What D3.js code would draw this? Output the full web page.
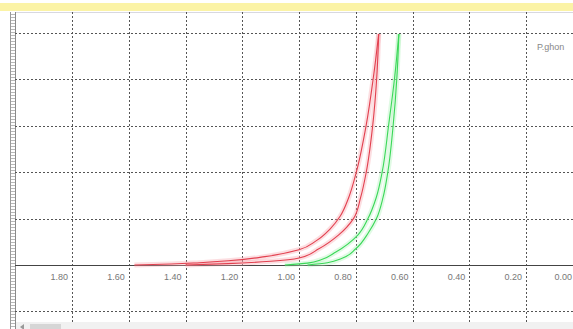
<!DOCTYPE html>
<html><head><meta charset="utf-8">
<script src="https://cdn.jsdelivr.net/npm/d3@7"></script>
<style>html,body{margin:0;padding:0;background:#fff;overflow:hidden}</style>
</head><body>
<svg id="c" width="573" height="329"></svg>
<script>
// Tick labels along the (reversed) potential axis
const xTicks = [1.80, 1.60, 1.40, 1.20, 1.00, 0.80, 0.60, 0.40, 0.20, 0.00];
const yGrid = [-1, 0, 1, 2, 3, 4, 5];
const legendText = "P.ghon";

// Red loop: forward (outer) and reverse (inner) branches  [potential, current]
const redPotA = [1.58, 1.45, 1.35, 1.25, 1.12, 1.00, 0.94, 0.89, 0.855, 0.825, 0.798, 0.763, 0.738, 0.719];
const redCurA = [0.00, 0.02, 0.05, 0.09, 0.18, 0.33, 0.52, 0.78, 1.05, 1.45, 2.00, 3.02, 4.04, 4.98];
const redPotB = [1.40, 1.25, 1.10, 1.00, 0.93, 0.86, 0.808, 0.783, 0.763, 0.740, 0.726, 0.719];
const redCurB = [0.00, 0.03, 0.08, 0.15, 0.35, 0.65, 1.00, 1.45, 2.00, 3.02, 4.04, 4.98];
// Green loop
const grnPotA = [1.05, 0.97, 0.92, 0.87, 0.792, 0.757, 0.728, 0.707, 0.684, 0.663, 0.648];
const grnCurA = [0.00, 0.04, 0.12, 0.28, 0.65, 1.00, 1.45, 2.00, 3.02, 4.04, 4.98];
const grnPotB = [0.97, 0.90, 0.85, 0.80, 0.755, 0.727, 0.704, 0.687, 0.668, 0.655, 0.648];
const grnCurB = [0.00, 0.05, 0.14, 0.35, 0.70, 1.00, 1.45, 2.00, 3.02, 4.04, 4.98];

(function () {
const svg = d3.select("#c");
const W = 573, H = 329;
const padL = 15, padT = 12, padB = 321;

const x = d3.scaleLinear().domain([1.80, 0.20]).range([72, 526]);
const y = d3.scaleLinear().domain([0, 5]).range([265, 33]);

// top yellow bar
svg.append("rect").attr("x", 0).attr("y", 3).attr("width", W).attr("height", 8).attr("fill", "#fbf3a6");
svg.append("line").attr("x1", padL).attr("x2", W).attr("y1", padT + 0.5).attr("y2", padT + 0.5).attr("stroke", "#d8d8e0").attr("stroke-width", 1);

// left ruler
const ruler = svg.append("g");
ruler.append("line").attr("x1", 10.5).attr("x2", 10.5).attr("y1", padT).attr("y2", H).attr("stroke", "#9a9a9a");
ruler.append("line").attr("x1", 15.5).attr("x2", 15.5).attr("y1", padT).attr("y2", H).attr("stroke", "#8a8a8a");
ruler.selectAll("line.rt").data(d3.range(padT + 2, H, 3)).enter().append("line").attr("class", "rt")
  .attr("x1", 11).attr("x2", 15).attr("y1", d => d + 0.5).attr("y2", d => d + 0.5).attr("stroke", "#b8b8b8");

// vertical grid
svg.append("g").selectAll("line").data(xTicks).enter().append("line")
  .attr("x1", d => Math.round(x(d)) + 0.5).attr("x2", d => Math.round(x(d)) + 0.5)
  .attr("y1", padT).attr("y2", padB + 2)
  .attr("stroke", "#555").attr("stroke-dasharray", "2,2");

// horizontal grid
svg.append("g").selectAll("line").data(yGrid.filter(d => d !== 0)).enter().append("line")
  .attr("x1", padL).attr("x2", W)
  .attr("y1", d => Math.round(y(d)) + 0.5).attr("y2", d => Math.round(y(d)) + 0.5)
  .attr("stroke", "#555").attr("stroke-dasharray", "2,2");

// x axis line
svg.append("line").attr("x1", padL).attr("x2", W)
  .attr("y1", Math.round(y(0)) + 0.5).attr("y2", Math.round(y(0)) + 0.5)
  .attr("stroke", "#444").attr("stroke-width", 1.2);

// tick labels (last one kept inside the window)
svg.append("g").selectAll("text").data(xTicks).enter().append("text")
  .attr("x", d => Math.min(x(d) - 4, W - 1)).attr("y", y(0) + 15)
  .attr("text-anchor", "end").attr("font-family", "Liberation Sans, Arial, sans-serif")
  .attr("font-size", 9).attr("fill", "#777").text(d => d.toFixed(2));

// legend text
svg.append("text").attr("x", 537).attr("y", 50).attr("font-family", "Liberation Sans, Arial, sans-serif")
  .attr("font-size", 9).attr("fill", "#888").text(legendText);

// curves
const line = d3.line().x(d => x(d[0])).y(d => y(d[1])).curve(d3.curveMonotoneY);
const zip = (a, b) => a.map((v, i) => [v, b[i]]);
const series = [
  {p: redPotA, c: redCurA, col: "#e2404f", halo: "#f7a0a8"},
  {p: redPotB, c: redCurB, col: "#e2404f", halo: "#f7a0a8"},
  {p: grnPotA, c: grnCurA, col: "#3ad858", halo: "#a6f0b2"},
  {p: grnPotB, c: grnCurB, col: "#3ad858", halo: "#a6f0b2"}
];
const g = svg.append("g");
series.forEach(s => {
  g.append("path").attr("d", line(zip(s.p, s.c))).attr("fill", "none")
    .attr("stroke", s.halo).attr("stroke-width", 5).attr("opacity", 0.35);
});
series.forEach(s => {
  g.append("path").attr("d", line(zip(s.p, s.c))).attr("fill", "none")
    .attr("stroke", s.col).attr("stroke-width", 1.1);
});

// bottom scrollbar
svg.append("rect").attr("x", 16).attr("y", padB + 1).attr("width", W - 16).attr("height", H - padB - 1).attr("fill", "#f1f1f1");
svg.append("rect").attr("x", 30).attr("y", padB + 3).attr("width", 31).attr("height", H - padB - 3).attr("fill", "#d6d6d6");
svg.append("path").attr("d", "M20," + (padB + 6) + "l4,-3v6z").attr("fill", "#999");
})();
</script>
</body></html>
